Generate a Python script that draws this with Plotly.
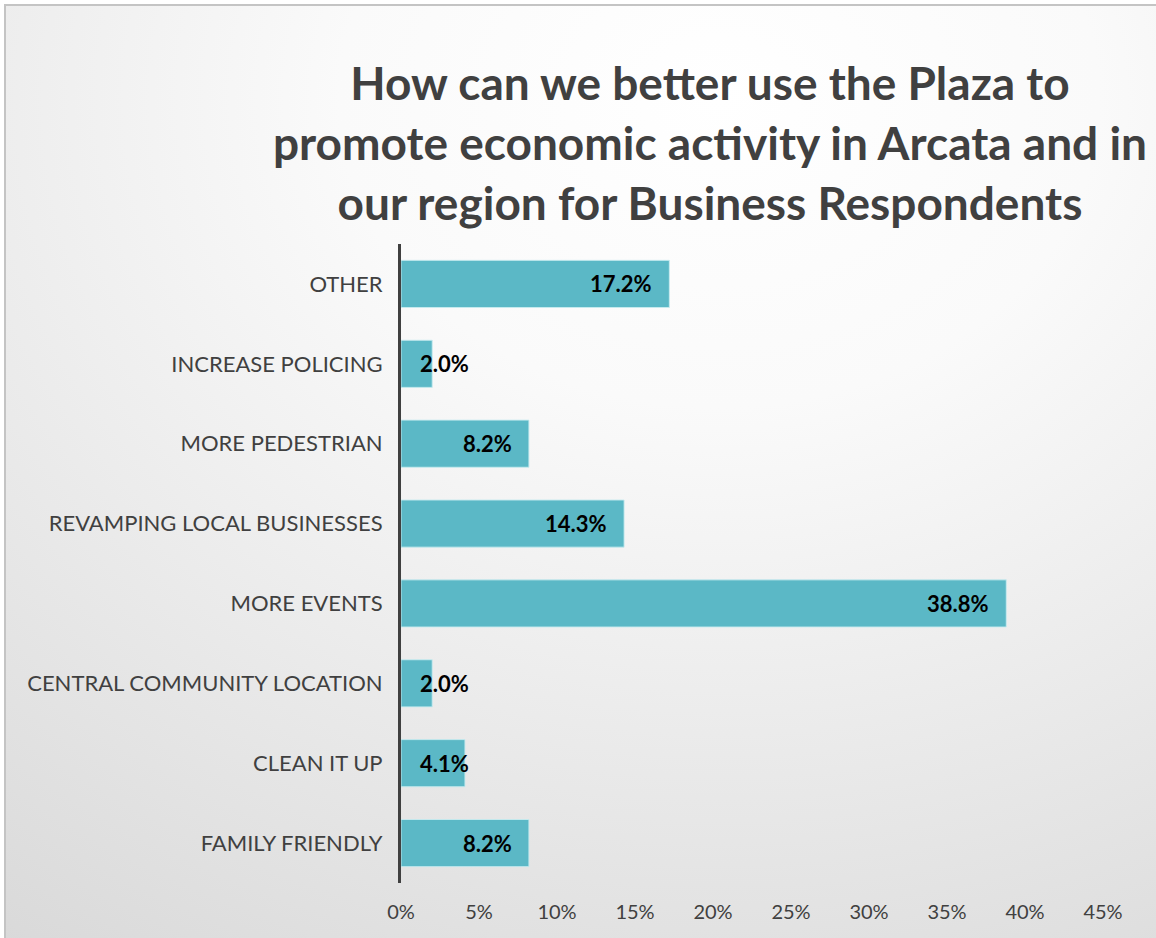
import base64
import plotly.graph_objects as go

# Survey answers, listed top to bottom as displayed
categories = [
    "OTHER",
    "INCREASE POLICING",
    "MORE PEDESTRIAN",
    "REVAMPING LOCAL BUSINESSES",
    "MORE EVENTS",
    "CENTRAL COMMUNITY LOCATION",
    "CLEAN IT UP",
    "FAMILY FRIENDLY",
]
percentages = [17.2, 2.0, 8.2, 14.3, 38.8, 2.0, 4.1, 8.2]
x_ticks = [0, 5, 10, 15, 20, 25, 30, 35, 40, 45]
x_tick_labels = [f"{t}%" for t in x_ticks]

title_lines = [
    "How can we better use the Plaza to",
    "promote economic activity in Arcata and in",
    "our region for Business Respondents",
]

W, H = 1156, 938
ML, MR, MT, MB = 401, 53, 244, 55
PW, PH = W - ML - MR, H - MT - MB

BAR_COLOR = "#5bb8c6"
TEXT_COLOR = "#404040"
FONT = "Lato, 'Open Sans', sans-serif"

# soft radial backdrop for the chart area
svg = f"""<svg xmlns='http://www.w3.org/2000/svg' width='{W}' height='{H}' viewBox='0 0 {W} {H}' preserveAspectRatio='none'>
<defs><radialGradient id='g' cx='0.62' cy='0.1' r='1.1' gradientUnits='objectBoundingBox'>
<stop offset='0' stop-color='#ffffff'/><stop offset='0.3' stop-color='#fafafa'/>
<stop offset='1' stop-color='#d9d9d9'/></radialGradient></defs>
<rect width='{W}' height='{H}' fill='url(#g)'/></svg>"""
bg_uri = "data:image/svg+xml;base64," + base64.b64encode(svg.encode()).decode()


def px_to_paper_x(px):
    return (px - ML) / PW


def px_to_paper_y(py):
    return (H - MB - py) / PH


fig = go.Figure(
    go.Bar(
        x=percentages,
        y=categories,
        orientation="h",
        marker=dict(color=BAR_COLOR, line=dict(color="rgba(200,235,240,0.9)", width=1)),
        width=0.59,
        hoverinfo="skip",
    )
)

# value labels: inside the bar end when they fit, otherwise from the bar start
annotations = []
for cat, v in zip(categories, percentages):
    fits = v >= 6
    annotations.append(
        dict(
            x=v if fits else 0,
            y=cat,
            xref="x",
            yref="y",
            text=f"<b>{v:.1f}%</b>",
            showarrow=False,
            xanchor="right" if fits else "left",
            xshift=-15 if fits else 17,
            font=dict(family=FONT, size=22, color="#000000"),
        )
    )

fig.update_layout(
    width=W,
    height=H,
    margin=dict(l=ML, r=MR, t=MT, b=MB, autoexpand=False),
    paper_bgcolor="#ffffff",
    plot_bgcolor="rgba(0,0,0,0)",
    showlegend=False,
    title=dict(
        text="<br>".join(title_lines),
        x=710 / W,
        xref="container",
        xanchor="center",
        y=1 - 100 / H,
        yref="container",
        yanchor="top",
        font=dict(family=FONT, size=46, color=TEXT_COLOR, weight="bold"),
    ),
    xaxis=dict(
        range=[0, 45],
        tickvals=x_ticks,
        ticktext=x_tick_labels,
        showgrid=False,
        zeroline=False,
        showline=False,
        ticks="",
        ticklabelstandoff=15,
        tickfont=dict(family=FONT, size=20, color=TEXT_COLOR),
        automargin=False,
        fixedrange=True,
    ),
    yaxis=dict(
        autorange="reversed",
        showgrid=False,
        showline=True,
        linecolor=TEXT_COLOR,
        linewidth=3,
        ticks="",
        ticklabelstandoff=11,
        tickfont=dict(family=FONT, size=22, color=TEXT_COLOR),
        automargin=False,
        fixedrange=True,
    ),
    annotations=annotations,
    images=[
        dict(
            source=bg_uri,
            xref="paper",
            yref="paper",
            x=px_to_paper_x(6),
            y=px_to_paper_y(6),
            sizex=(W - 6) / PW,
            sizey=(H - 6) / PH,
            xanchor="left",
            yanchor="top",
            sizing="stretch",
            layer="below",
        )
    ],
    shapes=[
        dict(
            type="rect",
            xref="paper",
            yref="paper",
            x0=px_to_paper_x(5),
            x1=px_to_paper_x(W + 20),
            y0=px_to_paper_y(H + 20),
            y1=px_to_paper_y(5),
            line=dict(color="#c4c4c4", width=2),
            fillcolor="rgba(0,0,0,0)",
            layer="below",
        )
    ],
)

fig.write_html("out.html")
